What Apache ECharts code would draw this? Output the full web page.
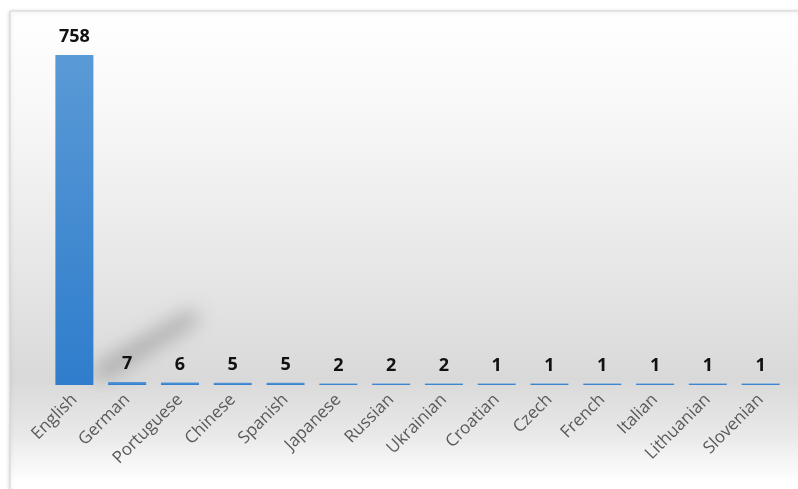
<!DOCTYPE html>
<html>
<head>
<meta charset="utf-8">
<script src="https://cdn.jsdelivr.net/npm/echarts@6/dist/echarts.min.js"></script>
<style>
html,body{margin:0;padding:0;background:#fff;}
#main{width:798px;height:489px;}
</style>
</head>
<body>
<div id="main"></div>
<script>
var categories = ['English','German','Portuguese','Chinese','Spanish','Japanese','Russian','Ukrainian','Croatian','Czech','French','Italian','Lithuanian','Slovenian'];
var values = [758,7,6,5,5,2,2,2,1,1,1,1,1,1];

var chart = echarts.init(document.getElementById('main'), null, {renderer:'canvas'});
var option = {
  animation: false,
  backgroundColor: '#ffffff',
  graphic: [{
    type: 'rect',
    id: 'bg',
    z: -10,
    shape: {x: 10, y: 11, width: 800, height: 490},
    style: {
      fill: new echarts.graphic.LinearGradient(0, 0, 0, 1, [
        {offset: 0, color: '#ffffff'},
        {offset: 0.2, color: '#f8f8f8'},
        {offset: 0.5, color: '#e8e8e8'},
        {offset: 0.75, color: '#d9d9d9'},
        {offset: 0.86, color: '#e8e8e8'},
        {offset: 0.96, color: '#ffffff'},
        {offset: 1, color: '#ffffff'}
      ]),
      stroke: '#d4d4d4',
      lineWidth: 1,
      shadowColor: 'rgba(0,0,0,0.18)',
      shadowBlur: 4,
      shadowOffsetY: 1
    },
    silent: true
  }],
  grid: {left: 48, right: 11, top: 55, bottom: 104, containLabel: false},
  xAxis: {
    type: 'category',
    data: categories,
    axisLine: {show: false},
    axisTick: {show: false},
    axisLabel: {
      interval: 0,
      rotate: 45,
      margin: 12,
      color: '#595959',
      fontFamily: 'Open Sans',
      fontSize: 17
    }
  },
  yAxis: {
    type: 'value',
    min: 0,
    max: 758,
    show: false,
    splitLine: {show: false}
  },
  series: [{
    type: 'bar',
    data: values,
    barWidth: '72%',
    barMinHeight: 1.5,
    itemStyle: {
      color: new echarts.graphic.LinearGradient(0, 0, 0, 1, [
        {offset: 0, color: '#5a9ad6'},
        {offset: 1, color: '#2f7dcc'}
      ])
    },
    label: {
      show: true,
      position: 'top',
      distance: 9,
      color: '#111111',
      fontFamily: 'Open Sans',
      fontWeight: 'bold',
      fontSize: 18
    }
  }]
};
chart.setOption(option);

// soft diagonal shadow cast by the tallest bar, anchored via the axis scales
var base = chart.convertToPixel({seriesIndex: 0}, [0, 0]);
var bw = 52.85 * 0.72;
var xr = base[0] + bw / 2;
var y0 = base[1];
var off = 2000;
chart.setOption({
  graphic: [{
    type: 'polygon',
    id: 'castShadow',
    z: -5,
    silent: true,
    shape: {points: [
      [xr + 3 - off, y0 - 3],
      [xr + 4 - off, y0 - 18],
      [xr + 98 - off, y0 - 74],
      [xr + 106 - off, y0 - 66]
    ]},
    style: {
      fill: 'rgba(100,100,100,1)',
      shadowColor: 'rgba(95,95,95,0.55)',
      shadowBlur: 20,
      shadowOffsetX: off
    }
  }]
});
</script>
</body>
</html>
